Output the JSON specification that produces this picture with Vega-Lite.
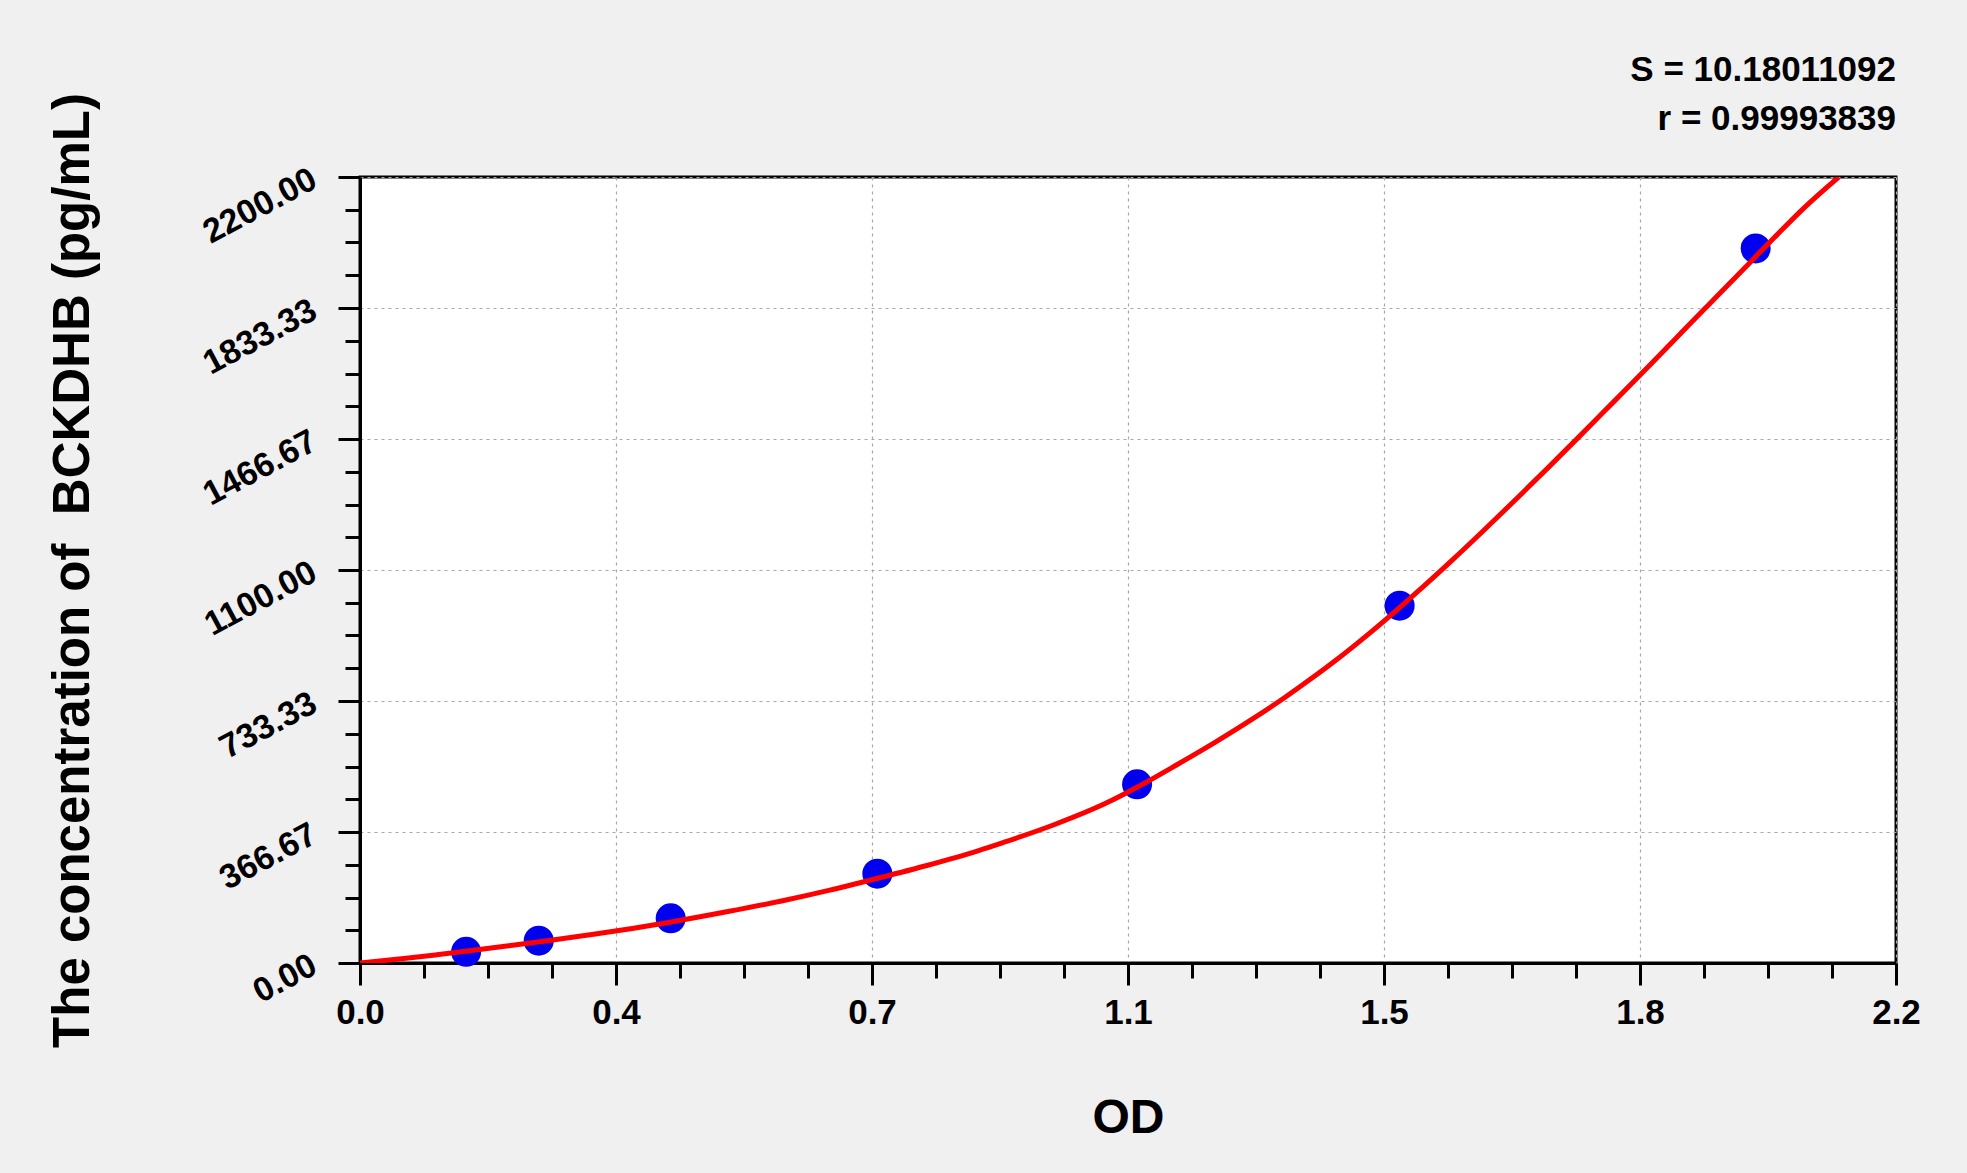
{
  "$schema": "https://vega.github.io/schema/vega-lite/v6.json",
  "width": 1536,
  "height": 786,
  "autosize": "none",
  "padding": {"left": 360, "top": 177, "right": 71, "bottom": 210},
  "background": "#f0f0f0",
  "config": {
    "font": "Liberation Sans",
    "view": {"fill": "white", "stroke": "black", "strokeWidth": 3},
    "axis": {
      "domainColor": "black",
      "domainWidth": 3,
      "tickColor": "black",
      "tickWidth": 3,
      "labelFont": "Liberation Sans",
      "labelFontWeight": "bold",
      "labelColor": "black",
      "titleFont": "Liberation Sans",
      "titleFontWeight": "bold",
      "titleColor": "black",
      "gridColor": "#a8a8a8",
      "gridDash": [3, 4],
      "gridWidth": 1.2,
      "labelOverlap": false,
      "labelFlush": false,
      "labelBound": false
    }
  },
  "title": {
    "text": "S = 10.18011092",
    "subtitle": "r = 0.99993839",
    "anchor": "end",
    "frame": "group",
    "orient": "top",
    "font": "Liberation Sans",
    "fontSize": 35,
    "fontWeight": "bold",
    "color": "black",
    "subtitleFont": "Liberation Sans",
    "subtitleFontSize": 35,
    "subtitleFontWeight": "bold",
    "subtitleColor": "black",
    "subtitlePadding": 14,
    "offset": -44
  },
  "encoding": {
    "x": {
      "field": "od",
      "type": "quantitative",
      "scale": {"domain": [0, 2.2], "nice": false, "zero": false},
      "axis": {
        "title": "OD",
        "titleFontSize": 48,
        "titleX": 768,
        "titleY": 169,
        "titleBaseline": "alphabetic",
        "titleAlign": "center",
        "titleAngle": 0,
        "values": [0, 0.0916667, 0.1833333, 0.275, 0.3666667, 0.4583333, 0.55, 0.6416667, 0.7333333, 0.825, 0.9166667, 1.0083333, 1.1, 1.1916667, 1.2833333, 1.375, 1.4666667, 1.5583333, 1.65, 1.7416667, 1.8333333, 1.925, 2.0166667, 2.1083333, 2.2],
        "labelExpr": "abs(datum.value/0.36666667 - round(datum.value/0.36666667)) < 0.001 ? format(datum.value, '.1f') : ''",
        "labelFontSize": 35,
        "labelPadding": 10,
        "tickSize": {"condition": {"test": "abs(datum.value/0.36666667 - round(datum.value/0.36666667)) < 0.001", "value": 22}, "value": 15},
        "gridOpacity": {"condition": {"test": "abs(datum.value/0.36666667 - round(datum.value/0.36666667)) < 0.001", "value": 1}, "value": 0}
      }
    },
    "y": {
      "field": "conc",
      "type": "quantitative",
      "scale": {"domain": [0, 2200], "nice": false, "zero": false},
      "axis": {
        "title": "The concentration of\u00a0 BCKDHB (pg/mL)",
        "titleFontSize": 51,
        "titleAngle": -90,
        "titleX": -272,
        "titleY": 393,
        "titleBaseline": "alphabetic",
        "titleAlign": "center",
        "values": [0, 91.66667, 183.33333, 275, 366.66667, 458.33333, 550, 641.66667, 733.33333, 825, 916.66667, 1008.33333, 1100, 1191.66667, 1283.33333, 1375, 1466.66667, 1558.33333, 1650, 1741.66667, 1833.33333, 1925, 2016.66667, 2108.33333, 2200],
        "labelExpr": "abs(datum.value/366.666667 - round(datum.value/366.666667)) < 0.001 ? format(datum.value, '.2f') : ''",
        "labelFontSize": 34,
        "labelAngle": -28,
        "labelAlign": "right",
        "labelBaseline": "middle",
        "labelPadding": 24,
        "tickSize": {"condition": {"test": "abs(datum.value/366.666667 - round(datum.value/366.666667)) < 0.001", "value": 22}, "value": 15},
        "gridOpacity": {"condition": {"test": "abs(datum.value/366.666667 - round(datum.value/366.666667)) < 0.001", "value": 1}, "value": 0}
      }
    }
  },
  "layer": [
    {
      "data": {
        "values": [
          {"od": 0.152, "conc": 31.25},
          {"od": 0.256, "conc": 62.5},
          {"od": 0.445, "conc": 125},
          {"od": 0.741, "conc": 250},
          {"od": 1.113, "conc": 500},
          {"od": 1.489, "conc": 1000},
          {"od": 1.999, "conc": 2000}
        ]
      },
      "mark": {"type": "circle", "size": 900, "color": "#0000ee", "opacity": 1}
    },
    {
      "data": {
        "values": [
          {"od": 0, "conc": 0},
          {"od": 0.066, "conc": 13},
          {"od": 0.110, "conc": 23},
          {"od": 0.154, "conc": 33.5},
          {"od": 0.213, "conc": 48},
          {"od": 0.271, "conc": 63},
          {"od": 0.337, "conc": 81},
          {"od": 0.446, "conc": 115},
          {"od": 0.527, "conc": 144},
          {"od": 0.607, "conc": 175},
          {"od": 0.673, "conc": 204},
          {"od": 0.739, "conc": 236},
          {"od": 0.812, "conc": 273},
          {"od": 0.885, "conc": 314},
          {"od": 0.921, "conc": 337},
          {"od": 0.994, "conc": 387},
          {"od": 1.068, "conc": 447},
          {"od": 1.113, "conc": 492},
          {"od": 1.170, "conc": 555},
          {"od": 1.224, "conc": 617},
          {"od": 1.279, "conc": 684},
          {"od": 1.323, "conc": 741},
          {"od": 1.361, "conc": 794},
          {"od": 1.400, "conc": 851},
          {"od": 1.444, "conc": 920},
          {"od": 1.489, "conc": 995},
          {"od": 1.526, "conc": 1059},
          {"od": 1.564, "conc": 1127},
          {"od": 1.609, "conc": 1210},
          {"od": 1.652, "conc": 1291},
          {"od": 1.700, "conc": 1383},
          {"od": 1.743, "conc": 1467},
          {"od": 1.781, "conc": 1542},
          {"od": 1.819, "conc": 1617},
          {"od": 1.857, "conc": 1693},
          {"od": 1.891, "conc": 1761},
          {"od": 1.929, "conc": 1837},
          {"od": 1.958, "conc": 1895},
          {"od": 1.991, "conc": 1961},
          {"od": 2.025, "conc": 2029},
          {"od": 2.068, "conc": 2113},
          {"od": 2.118, "conc": 2200}
        ]
      },
      "mark": {"type": "line", "color": "#ff0000", "strokeWidth": 5, "interpolate": "monotone", "clip": true}
    }
  ]
}
